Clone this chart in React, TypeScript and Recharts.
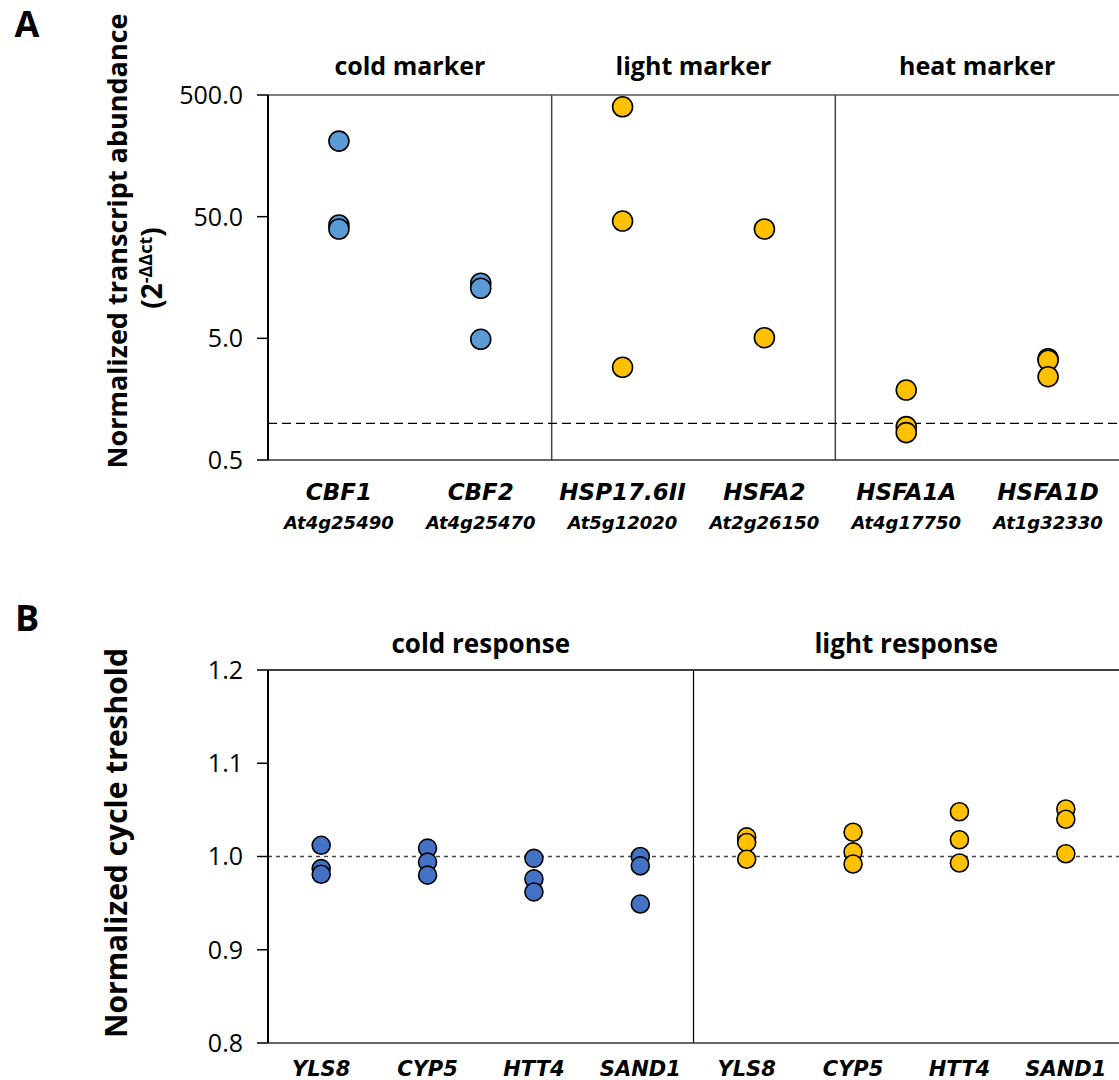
import React from "react";
import {
  ScatterChart,
  Scatter,
  XAxis,
  YAxis,
  ReferenceLine,
} from "recharts";

const markerGenes = ["CBF1", "CBF2", "HSP17.6II", "HSFA2", "HSFA1A", "HSFA1D"];
const markerLoci = ["At4g25490", "At4g25470", "At5g12020", "At2g26150", "At4g17750", "At1g32330"];
const markerValues = [
  [209, 42.7, 39.6],
  [14.2, 12.9, 4.91],
  [400, 46, 2.89],
  [39.6, 5.06],
  [1.88, 0.94, 0.84],
  [3.4, 3.3, 2.42],
];
const markerColdCount = 2;
const markerGroups = ["cold marker", "light marker", "heat marker"];
const markerTicks = [0.5, 5, 50, 500];

const refGenes = ["YLS8", "CYP5", "HTT4", "SAND1", "YLS8", "CYP5", "HTT4", "SAND1"];
const refValues = [
  [1.012, 0.987, 0.981],
  [1.009, 0.994, 0.98],
  [0.998, 0.976, 0.962],
  [1.0, 0.99, 0.949],
  [1.021, 1.015, 0.997],
  [1.026, 1.005, 0.992],
  [1.048, 1.018, 0.993],
  [1.051, 1.04, 1.003],
];
const refColdCount = 4;
const refGroups = ["cold response", "light response"];
const refTicks = [0.8, 0.9, 1.0, 1.1, 1.2];

const FONT = "'Open Sans', sans-serif";
const WIDE = "'DejaVu Sans', sans-serif";

type Pt = { x: number; y: number };

function toPoints(values: number[][], from: number, to: number): Pt[] {
  const out: Pt[] = [];
  values.forEach((vals, i) => {
    if (i < from || i >= to) return;
    vals.forEach((v) => out.push({ x: i + 0.5, y: v }));
  });
  return out;
}

const dot = (r: number, fill: string) => (props: any) => (
  <circle cx={props.cx} cy={props.cy} r={r} fill={fill} stroke="#000" strokeWidth={1.6} />
);

const MarkerTick = (props: any) => {
  const { x, y, payload } = props;
  const i = Math.round(payload.value - 0.5);
  return (
    <g transform={`translate(${x},${y})`}>
      <text x={0} y={32} textAnchor="middle" fontFamily={WIDE} fontSize={23} fontWeight={700} fontStyle="italic" fill="#000">
        {markerGenes[i]}
      </text>
      <text x={0} y={61} textAnchor="middle" fontFamily={WIDE} fontSize={18} fontWeight={700} fontStyle="italic" fill="#000">
        {markerLoci[i]}
      </text>
    </g>
  );
};

const RefTick = (props: any) => {
  const { x, y, payload } = props;
  const i = Math.round(payload.value - 0.5);
  return (
    <text x={x} y={y + 25} textAnchor="middle" fontFamily={WIDE} fontSize={21} fontWeight={700} fontStyle="italic" fill="#000">
      {refGenes[i]}
    </text>
  );
};

const label = (text: React.ReactNode, left: number, top: number, size: number, extra: React.CSSProperties = {}) => (
  <div
    style={{
      position: "absolute",
      left,
      top,
      transform: "translate(-50%, -50%)",
      fontFamily: FONT,
      fontSize: size,
      fontWeight: 700,
      whiteSpace: "nowrap",
      color: "#000",
      lineHeight: 1,
      ...extra,
    }}
  >
    {text}
  </div>
);

const rotated = { transform: "translate(-50%, -50%) rotate(-90deg)" };

export default function App() {
  const plotLeft = 268;
  const plotW = 1119 - plotLeft;
  const topCold = toPoints(markerValues, 0, markerColdCount);
  const topWarm = toPoints(markerValues, markerColdCount, markerGenes.length);
  const botCold = toPoints(refValues, 0, refColdCount);
  const botWarm = toPoints(refValues, refColdCount, refGenes.length);
  const topStep = plotW / markerGenes.length;
  const botStep = plotW / refGenes.length;

  return (
    <div style={{ position: "absolute", left: 0, top: 0, width: 1119, height: 1080, background: "#fff" }}>
      <div style={{ position: "absolute", left: 0, top: 0 }}>
        <ScatterChart width={1119} height={560} margin={{ top: 95, right: 0, bottom: 0, left: 0 }}>
          <XAxis
            type="number"
            dataKey="x"
            domain={[0, markerGenes.length]}
            ticks={markerGenes.map((_, i) => i + 0.5)}
            interval={0}
            tick={<MarkerTick />}
            tickLine={false}
            axisLine={{ stroke: "#333", strokeWidth: 1.5 }}
            height={100}
          />
          <YAxis
            type="number"
            dataKey="y"
            scale="log"
            domain={[0.5, 500]}
            allowDataOverflow
            ticks={markerTicks}
            interval={0}
            tickFormatter={(v: number) => v.toFixed(1)}
            tick={{ fontFamily: FONT, fontSize: 25, fill: "#000" }}
            tickSize={11}
            tickMargin={14}
            tickLine={{ stroke: "#000", strokeWidth: 1.5 }}
            axisLine={{ stroke: "#000", strokeWidth: 2 }}
            width={plotLeft}
          />
          <ReferenceLine y={500} stroke="#555" strokeWidth={1.5} />
          <ReferenceLine x={2} stroke="#444" strokeWidth={1.5} />
          <ReferenceLine x={4} stroke="#444" strokeWidth={1.5} />
          <ReferenceLine y={1} stroke="#000" strokeWidth={1.3} strokeDasharray="9 5" />
          <Scatter data={topCold} fill="#5B9BD5" shape={dot(10, "#5B9BD5")} isAnimationActive={false} />
          <Scatter data={topWarm} fill="#FFC000" shape={dot(10, "#FFC000")} isAnimationActive={false} />
        </ScatterChart>
      </div>
      <div style={{ position: "absolute", left: 0, top: 560 }}>
        <ScatterChart width={1119} height={520} margin={{ top: 110, right: 0, bottom: 0, left: 0 }}>
          <XAxis
            type="number"
            dataKey="x"
            domain={[0, refGenes.length]}
            ticks={refGenes.map((_, i) => i + 0.5)}
            interval={0}
            tick={<RefTick />}
            tickLine={false}
            axisLine={{ stroke: "#333", strokeWidth: 1.5 }}
            height={37}
          />
          <YAxis
            type="number"
            dataKey="y"
            domain={[0.8, 1.2]}
            ticks={refTicks}
            interval={0}
            tickFormatter={(v: number) => v.toFixed(1)}
            tick={{ fontFamily: FONT, fontSize: 25, fill: "#000" }}
            tickSize={11}
            tickMargin={14}
            tickLine={{ stroke: "#000", strokeWidth: 1.5 }}
            axisLine={{ stroke: "#000", strokeWidth: 2 }}
            width={plotLeft}
          />
          <ReferenceLine y={1.2} stroke="#000" strokeWidth={1.5} />
          <ReferenceLine x={4} stroke="#000" strokeWidth={1.2} />
          <ReferenceLine y={1} stroke="#444" strokeWidth={1.3} strokeDasharray="4 4" />
          <Scatter data={botCold} fill="#4472C4" shape={dot(9, "#4472C4")} isAnimationActive={false} />
          <Scatter data={botWarm} fill="#FFC000" shape={dot(9, "#FFC000")} isAnimationActive={false} />
        </ScatterChart>
      </div>

      {label("A", 27, 24, 36)}
      {label("B", 27, 618, 36)}

      {markerGroups.map((g, k) => label(g, plotLeft + topStep * (2 * k + 1), 65, 25))}
      {refGroups.map((g, k) => label(g, plotLeft + botStep * (4 * k + 2), 643, 26))}

      {label("Normalized transcript  abundance", 116, 241, 27, rotated)}
      {label(
        <span>
          (2<sup style={{ fontSize: 18 }}>-ΔΔct</sup>)
        </span>,
        151,
        268,
        28,
        rotated
      )}
      {label("Normalized cycle treshold", 116, 843, 30, rotated)}
    </div>
  );
}
